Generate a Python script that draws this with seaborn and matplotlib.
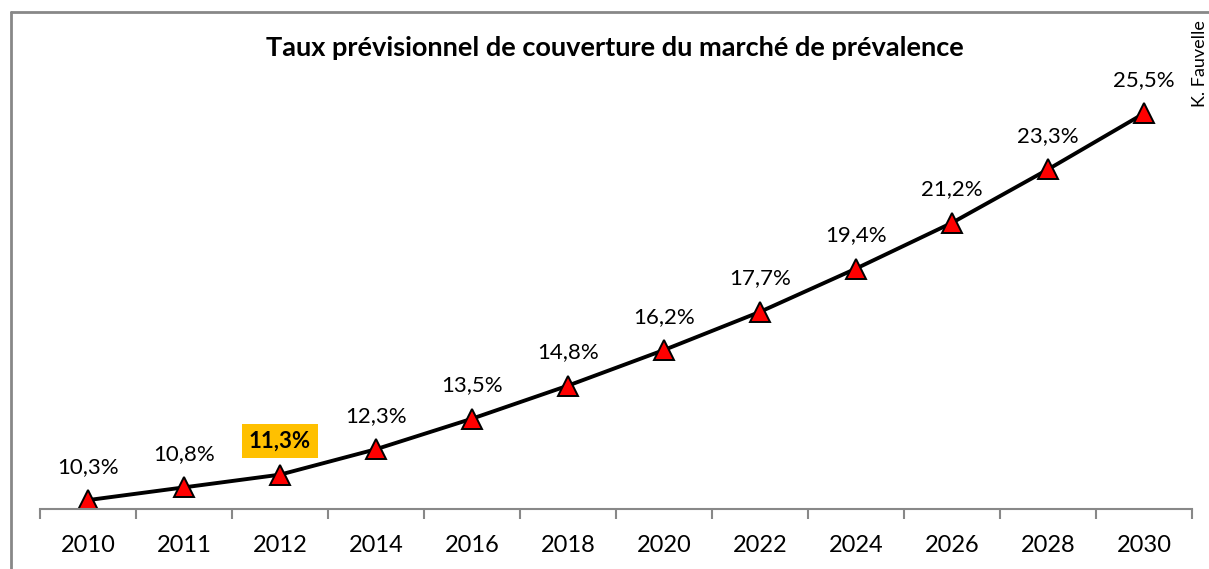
import pandas as pd
import numpy as np
import matplotlib.pyplot as plt
import seaborn as sns

years = ['2010', '2011', '2012', '2014', '2016', '2018', '2020', '2022', '2024', '2026', '2028', '2030']
taux = [10.3, 10.8, 11.3, 12.3, 13.5, 14.8, 16.2, 17.7, 19.4, 21.2, 23.3, 25.5]
highlight = '2012'

df = pd.DataFrame({'pos': np.arange(len(years)), 'annee': years, 'taux': taux})

sns.set_style('white')
plt.rcParams['font.family'] = ['Lato', 'DejaVu Sans']
plt.rcParams['text.color'] = 'black'
plt.rcParams['xtick.labelcolor'] = 'black'

W, H = 1209, 569
fig = plt.figure(figsize=(W / 100, H / 100), dpi=100)
ax = fig.add_axes([40 / W, 1 - 509 / H, (1192 - 40) / W, (509 - 60) / H])

sns.lineplot(data=df, x='pos', y='taux', ax=ax, color='black', lw=2.8,
             marker='^', markersize=15, markerfacecolor='#ff0000',
             markeredgecolor='black', markeredgewidth=1.4)

ax.set_xlim(-0.5, len(years) - 0.5)
ax.set_ylim(9.95, 27.6)

for i, row in df.iterrows():
    lab = f"{row['taux']:.1f}%".replace('.', ',')
    if row['annee'] == highlight:
        ax.annotate(lab, (row['pos'], row['taux']), xytext=(0, 24), textcoords='offset points',
                    ha='center', va='center', fontsize=16, fontweight='bold', color='black',
                    bbox=dict(boxstyle='square,pad=0.3', fc='#ffc000', ec='none'))
    else:
        ax.annotate(lab, (row['pos'], row['taux']), xytext=(0, 24), textcoords='offset points',
                    ha='center', va='center', fontsize=16, color='black')

# category axis: ticks between categories, labels centered
ax.set_xticks(np.arange(-0.5, len(years)), minor=False)
ax.set_xticklabels([])
ax.set_xticks(np.arange(len(years)), minor=True)
ax.set_xticklabels(years, minor=True, fontsize=17, color='black')
ax.tick_params(axis='x', which='major', direction='out', length=7, width=1.5, color='#888888', bottom=True)
ax.tick_params(axis='x', which='minor', length=0, pad=19)
ax.set_yticks([])
ax.set_xlabel('')
ax.set_ylabel('')
for s in ['top', 'right', 'left']:
    ax.spines[s].set_visible(False)
ax.spines['bottom'].set_color('#888888')
ax.spines['bottom'].set_linewidth(1.5)

fig.text(615 / W, 1 - 48 / H, 'Taux prévisionnel de couverture du marché de prévalence',
         ha='center', va='center', fontsize=19.5, fontweight='bold', color='black')
fig.text(1200 / W, 1 - 64 / H, 'K. Fauvelle', rotation=90, ha='center', va='center',
         fontsize=13, color='black')

# outer chart border
fig.add_artist(plt.Line2D([11 / W, 11 / W], [0, 1 - 12 / H], color='#888888', lw=2, transform=fig.transFigure))
fig.add_artist(plt.Line2D([11 / W, 1], [1 - 12 / H, 1 - 12 / H], color='#888888', lw=2, transform=fig.transFigure))

fig.savefig('out.png', dpi=100)
